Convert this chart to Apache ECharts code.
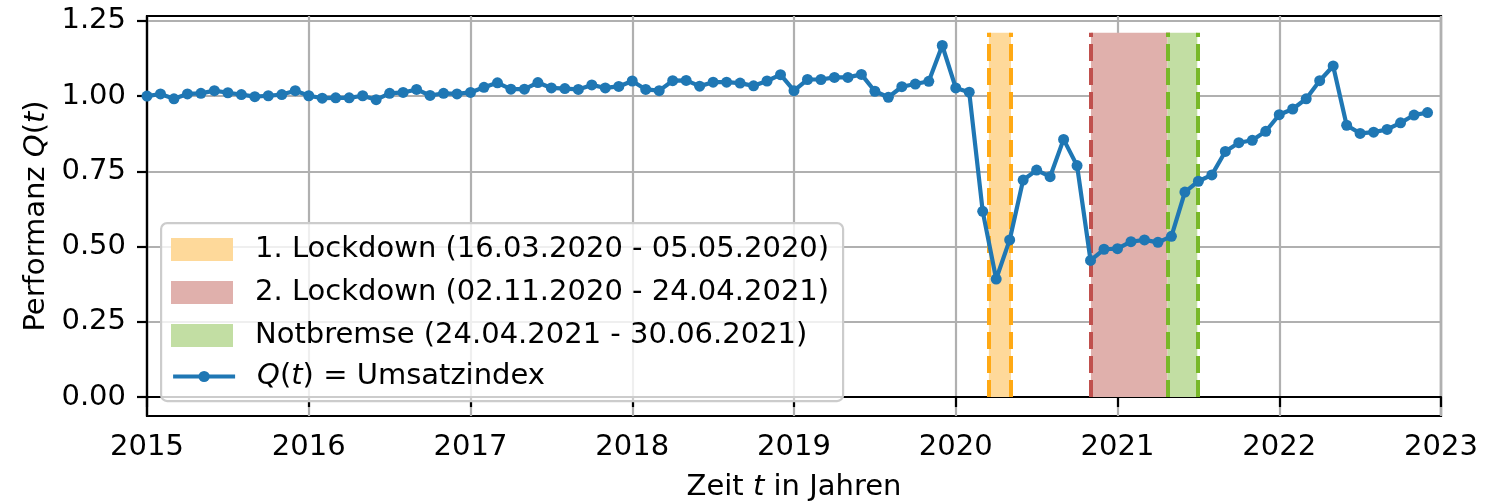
<!DOCTYPE html>
<html>
<head>
<meta charset="utf-8">
<script src="https://cdn.jsdelivr.net/npm/echarts@6/dist/echarts.min.js"></script>
<style>
  html, body { margin: 0; padding: 0; background: #ffffff; }
  #chart { width: 1502px; height: 504px; }
</style>
</head>
<body>
<div id="chart"></div>
<script>
// Monthly turnover index Q(t), one value per month from January 2015 to December 2022
const firstYear = 2015;
const umsatzindex = [
  1.000, 1.007, 0.991, 1.007, 1.009, 1.018, 1.011, 1.005, 0.998, 1.001, 1.005, 1.018,
  1.001, 0.993, 0.994, 0.994, 1.001, 0.988, 1.009, 1.012, 1.022, 1.002, 1.009, 1.007,
  1.012, 1.029, 1.044, 1.023, 1.023, 1.045, 1.027, 1.025, 1.022, 1.037, 1.027, 1.032,
  1.050, 1.022, 1.018, 1.051, 1.052, 1.033, 1.046, 1.046, 1.043, 1.034, 1.050, 1.071,
  1.018, 1.055, 1.055, 1.062, 1.062, 1.072, 1.016, 0.996, 1.031, 1.040, 1.049, 1.168,
  1.027, 1.013, 0.617, 0.392, 0.522, 0.721, 0.754, 0.732, 0.856, 0.769, 0.454, 0.491,
  0.493, 0.516, 0.522, 0.514, 0.534, 0.681, 0.717, 0.738, 0.816, 0.845, 0.853, 0.883,
  0.938, 0.957, 0.991, 1.051, 1.100, 0.903, 0.876, 0.880, 0.889, 0.911, 0.937, 0.945
];

// Restriction phases (start / end dates) shown as shaded bands
const phaseNames = [
  '1. Lockdown (16.03.2020 - 05.05.2020)',
  '2. Lockdown (02.11.2020 - 24.04.2021)',
  'Notbremse (24.04.2021 - 30.06.2021)'
];
const phaseStart = ['2020-03-16', '2020-11-02', '2021-04-24'];
const phaseEnd   = ['2020-05-05', '2021-04-24', '2021-06-30'];
const phaseTop = 1.21;

const lineName = 'Q(t) = Umsatzindex';
const yTicks = [0, 0.25, 0.5, 0.75, 1.0, 1.25];
const xYears = [2015, 2023];

// Styling
const FONT = 'DejaVu Sans';
const FS = 29;
const phaseFill = ['#fed99a', '#e0b0ac', '#c2dea3'];
const phaseEdge = ['#ffa914', '#c0504d', '#78b828'];
const lineColor = '#1f77b4';
const gridColor = '#b0b0b0';

// Date string -> fractional year
function toYear(d) {
  const [y, m, day] = d.split('-').map(Number);
  const s = Date.UTC(y, 0, 1), e = Date.UTC(y + 1, 0, 1);
  return y + (Date.UTC(y, m - 1, day) - s) / (e - s);
}

const lineData = umsatzindex.map((v, i) => [firstYear + i / 12, v]);

const phaseSeries = phaseNames.map((name, k) => {
  const x0 = toYear(phaseStart[k]);
  const x1 = toYear(phaseEnd[k]);
  return {
    name: name,
    type: 'line',
    data: [],
    symbol: 'none',
    color: phaseFill[k],
    itemStyle: { color: phaseFill[k] },
    z: 2 + k * 0.1,
    markArea: {
      silent: true,
      itemStyle: { color: phaseFill[k], opacity: 1 },
      data: [[{ xAxis: x0, yAxis: 0 }, { xAxis: x1, yAxis: phaseTop }]]
    },
    markLine: {
      silent: true,
      symbol: ['none', 'none'],
      label: { show: false },
      lineStyle: { color: phaseEdge[k], width: 4, type: [17, 7], opacity: 1 },
      data: [
        [{ coord: [x0, 0] }, { coord: [x0, phaseTop] }],
        [{ coord: [x1, 0] }, { coord: [x1, phaseTop] }]
      ]
    }
  };
});

const italicRich = {
  i: { fontStyle: 'italic', fontFamily: FONT, fontSize: FS, color: '#000' },
  n: { fontFamily: FONT, fontSize: FS, color: '#000' }
};

const chart = echarts.init(document.getElementById('chart'), null, { renderer: 'canvas' });

chart.setOption({
  animation: false,
  backgroundColor: '#ffffff',
  grid: {
    left: 147, right: 61, top: 16, bottom: 88,
    outerBoundsMode: 'none',
    containLabel: false,
    show: true, borderColor: '#000', borderWidth: 2.2, backgroundColor: 'transparent'
  },
  xAxis: {
    type: 'value',
    min: xYears[0], max: xYears[1], interval: 1,
    axisLine: { lineStyle: { color: '#000', width: 2.2 } },
    axisTick: { show: true, inside: false, length: 10, lineStyle: { color: '#000', width: 2.2 } },
    axisLabel: { margin: 17, fontFamily: FONT, fontSize: FS, color: '#000', formatter: v => String(v) },
    splitLine: { show: true, lineStyle: { color: gridColor, width: 2.2 } },
    name: '{n|Zeit }{i|t}{n| in Jahren}',
    nameLocation: 'middle',
    nameGap: 57,
    nameTextStyle: { fontFamily: FONT, fontSize: FS, color: '#000', rich: italicRich }
  },
  yAxis: {
    type: 'value',
    min: -0.063, max: 1.266,
    axisLine: { show: true, lineStyle: { color: '#000', width: 2.2 } },
    axisTick: { show: true, inside: false, length: 10, customValues: yTicks, lineStyle: { color: '#000', width: 2.2 } },
    axisLabel: { margin: 21, customValues: yTicks, fontFamily: FONT, fontSize: FS, color: '#000', formatter: v => v.toFixed(2) },
    splitLine: { show: true, lineStyle: { color: gridColor, width: 2.2 } },
    name: '{n|Performanz }{i|Q}{n|(}{i|t}{n|)}',
    nameLocation: 'middle',
    nameRotate: 90,
    nameGap: 95,
    nameTextStyle: { fontFamily: FONT, fontSize: FS, color: '#000', rich: italicRich }
  },
  graphic: [{
    type: 'rect',
    left: 160, top: 222,
    shape: { width: 682, height: 178, r: 6 },
    style: { fill: 'rgba(255,255,255,0.8)', stroke: '#cccccc', lineWidth: 2.2 },
    z: 10, silent: true
  }],
  legend: [
    {
      orient: 'vertical',
      left: 171, top: 235,
      itemWidth: 62, itemHeight: 23, itemGap: 14,
      selectedMode: false,
      padding: 0,
      z: 20,
      data: phaseNames.map(n => ({ name: n, icon: 'rect' })),
      itemStyle: { borderWidth: 0 },
      textStyle: { fontFamily: FONT, fontSize: FS, color: '#000', lineHeight: 23, padding: [0, 0, 0, 17] }
    },
    {
      orient: 'vertical',
      left: 171, top: 362,
      itemWidth: 62, itemHeight: 14,
      selectedMode: false,
      padding: 0,
      z: 20,
      data: [lineName],
      lineStyle: { width: 4.2, color: lineColor },
      formatter: () => '{i|Q}{n|(}{i|t}{n|) = Umsatzindex}',
      textStyle: { fontFamily: FONT, fontSize: FS, color: '#000', lineHeight: 14, padding: [0, 0, 0, 17], rich: italicRich }
    }
  ],
  series: phaseSeries.concat([{
    name: lineName,
    type: 'line',
    data: lineData,
    symbol: 'circle',
    symbolSize: 11,
    showAllSymbol: true,
    color: lineColor,
    lineStyle: { color: lineColor, width: 4.2 },
    itemStyle: { color: lineColor },
    z: 5
  }])
});
</script>
</body>
</html>
